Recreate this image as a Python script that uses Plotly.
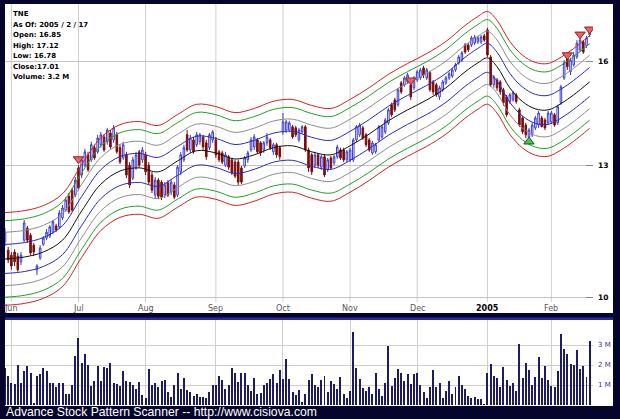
import plotly.graph_objects as go

W, H = 620, 419

# ---------------- data ----------------
OPEN = [11.17,10.99,10.88,10.95,10.86,10.74,11.21,11.48,11.32,11.10,10.57,10.82,11.12,11.26,11.30,11.39,11.53,11.51,11.72,11.90,
        12.23,12.38,12.26,12.94,12.76,13.01,13.28,13.15,13.47,13.36,13.55,13.76,13.63,13.87,13.68,13.82,13.47,13.20,13.28,13.01,
        12.68,12.94,13.36,13.15,13.28,13.01,12.76,12.26,12.63,12.58,12.26,12.56,12.33,12.51,12.26,12.84,13.15,13.82,13.41,13.68,
        13.55,13.63,13.76,13.60,13.47,13.68,13.68,13.36,13.33,13.01,13.23,13.15,13.09,13.09,12.94,12.99,13.15,13.41,13.49,13.68,
        13.60,13.41,13.60,13.68,13.36,13.55,13.47,13.90,13.95,13.95,14.04,14.01,13.68,13.90,14.04,13.41,13.28,13.01,13.28,12.96,
        13.23,12.89,13.20,13.07,13.23,13.41,13.41,13.15,13.15,13.15,13.68,13.82,14.01,13.82,13.68,13.33,13.36,13.68,13.76,13.90,
        14.15,14.67,14.81,14.67,15.32,15.26,15.35,15.26,15.17,15.41,15.47,15.78,15.47,15.63,15.35,15.26,14.90,15.11,15.32,15.47,
        15.53,15.72,15.94,16.03,16.52,16.52,16.52,16.58,16.62,16.62,16.82,17.02,16.13,15.26,15.41,15.35,15.11,14.90,14.76,14.81,
        14.96,14.52,14.29,14.09,13.76,13.82,14.01,14.09,14.29,14.23,14.15,14.18,14.38,14.15,14.73,15.47,16.10,15.66,15.88,16.13,
        16.36,16.62,16.49,16.85]
HIGH = [11.48,11.06,10.95,11.01,10.93,10.95,11.67,11.53,11.37,11.15,10.69,11.10,11.30,11.46,11.55,11.67,11.58,11.90,12.02,12.21,
        12.31,12.43,12.71,13.01,13.23,13.44,13.36,13.63,13.55,13.82,13.90,13.84,14.01,13.95,14.09,13.90,13.55,13.63,13.36,13.09,
        13.23,13.36,13.41,13.49,13.36,13.09,12.84,12.71,12.68,12.63,12.58,12.63,12.66,12.58,13.01,13.36,13.55,13.95,13.82,13.76,
        13.90,13.87,13.82,13.68,13.87,13.95,13.76,13.41,13.39,13.36,13.28,13.20,13.15,13.15,12.99,13.25,13.39,13.76,13.84,13.73,
        13.65,13.65,13.87,13.73,13.60,13.60,13.52,14.43,14.23,14.21,14.09,14.07,14.01,14.09,14.09,13.47,13.33,13.36,13.33,13.28,
        13.28,13.20,13.25,13.28,13.55,13.47,13.47,13.41,13.47,13.73,14.09,14.15,14.07,13.87,13.73,13.65,13.60,14.09,14.09,14.29,
        14.58,14.73,14.87,15.17,15.38,15.53,15.63,15.35,15.53,15.72,15.78,15.85,15.78,15.69,15.41,15.32,15.23,15.41,15.53,15.66,
        15.78,15.94,16.19,16.32,16.58,16.58,16.82,16.85,16.82,16.85,16.88,17.09,16.19,15.56,15.47,15.41,15.17,14.96,15.02,15.08,
        15.02,14.58,14.35,14.15,14.01,14.15,14.35,14.49,14.35,14.29,14.49,14.49,14.43,14.67,15.26,16.03,16.16,16.10,16.29,16.68,
        16.78,16.68,16.82,17.12]
LOW = [11.08,10.71,10.57,10.65,10.53,10.67,11.17,11.15,10.88,10.86,10.46,10.78,11.08,11.21,11.26,11.35,11.39,11.46,11.67,11.86,
       11.81,11.86,12.21,12.38,12.68,12.96,12.84,13.09,13.15,13.31,13.47,13.36,13.55,13.44,13.60,13.31,13.04,13.15,12.68,12.43,
       12.63,12.89,12.94,13.07,12.76,12.51,12.31,12.19,12.16,12.14,12.19,12.21,12.26,12.16,12.21,12.76,13.09,13.36,13.33,13.31,
       13.49,13.55,13.41,13.15,13.41,13.60,13.20,13.09,13.04,12.96,12.89,12.76,12.68,12.51,12.53,12.94,13.07,13.36,13.41,13.31,
       13.25,13.33,13.52,13.41,13.28,13.20,13.15,13.82,13.87,13.90,13.71,13.76,13.63,13.84,13.36,12.84,12.76,12.94,12.94,12.89,
       12.71,12.84,12.89,13.01,13.17,13.15,13.09,13.09,13.09,13.09,13.63,13.76,13.68,13.49,13.36,13.28,13.31,13.63,13.71,13.84,
       14.09,14.32,14.46,14.61,14.99,15.20,15.29,14.81,15.11,15.35,15.41,15.47,15.41,15.05,14.96,14.90,14.81,15.05,15.26,15.41,
       15.47,15.66,15.88,15.97,16.23,16.29,16.45,16.52,16.55,16.55,16.62,16.13,15.20,15.17,15.08,14.96,14.64,14.32,14.70,14.76,
       14.70,14.04,13.84,13.73,13.68,13.76,13.95,14.01,14.04,13.95,14.09,14.12,14.04,14.09,14.67,15.41,15.72,15.56,15.82,16.07,
       16.29,16.23,16.42,16.78]
CLOSE = [11.39,10.78,10.65,10.74,10.57,10.88,11.60,11.21,10.93,10.95,10.65,11.04,11.26,11.39,11.51,11.63,11.44,11.83,11.95,12.14,
         11.86,11.90,12.63,12.43,13.15,13.36,12.89,13.55,13.20,13.73,13.82,13.41,13.95,13.49,14.01,13.36,13.09,13.55,12.76,12.51,
         13.15,13.28,13.01,13.41,12.84,12.58,12.38,12.63,12.23,12.21,12.51,12.26,12.58,12.21,12.96,13.28,13.47,13.41,13.73,13.36,
         13.82,13.82,13.49,13.23,13.82,13.90,13.28,13.15,13.09,13.28,12.96,12.81,12.73,12.58,12.58,13.20,13.33,13.68,13.76,13.36,
         13.33,13.60,13.76,13.47,13.55,13.28,13.23,14.18,14.18,14.15,13.76,13.82,13.95,14.04,13.41,12.94,12.84,13.28,13.01,13.23,
         12.76,13.15,12.94,13.23,13.49,13.20,13.15,13.36,13.41,13.68,14.04,14.09,13.73,13.55,13.41,13.60,13.55,14.04,14.04,14.23,
         14.52,14.38,14.52,15.11,15.05,15.47,15.56,14.90,15.47,15.66,15.72,15.56,15.72,15.11,15.05,14.96,15.17,15.35,15.47,15.60,
         15.72,15.88,16.13,16.26,16.29,16.36,16.75,16.78,16.75,16.78,16.68,16.19,15.26,15.50,15.17,15.05,14.73,14.38,14.96,15.02,
         14.76,14.09,13.90,13.82,13.95,14.09,14.29,14.43,14.04,14.01,14.43,14.43,14.09,14.61,15.20,15.94,15.82,16.03,16.19,16.58,
         16.68,16.29,16.75,17.01]
VOLUME_M = [1.83,1.45,1.12,1.05,2.0,1.12,1.72,1.95,1.58,0.1,
            1.45,1.55,1.83,1.7,1.08,1.08,0.88,1.12,1.08,0.53,
            0.53,1.0,2.45,3.37,2.12,2.53,2.0,0.95,1.2,1.95,
            1.2,1.92,1.83,2.12,1.12,1.05,0.95,1.7,1.2,1.17,
            1.0,0.8,1.17,0.5,0.35,1.8,1.0,1.12,0.88,1.2,
            1.25,0.67,0.42,1.0,1.62,0.8,1.33,0.75,0.67,0.45,
            0.53,0.42,0.38,0.35,0.63,1.0,1.0,1.45,1.25,0.78,
            1.0,1.85,1.6,1.17,1.58,1.58,1.0,0.72,1.37,0.55,
            0.58,1.0,1.08,1.3,1.55,1.08,1.75,1.3,2.28,1.3,
            0.63,0.5,0.75,0.17,0.53,1.25,1.55,1.0,0.88,1.25,
            1.45,0.67,1.22,1.05,0.8,1.42,0.53,0.35,0.72,3.65,
            1.85,1.3,0.87,0.72,0.92,0.53,1.58,0.8,
            0.45,1.12,2.95,0.95,1.37,1.8,1.58,1.2,1.55,1.05,
            1.55,1.58,1.0,0.67,0.37,0.88,1.75,0.88,1.08,0.37,
            0.7,1.2,0.53,0.88,1.47,1.0,0.78,0.45,0.37,0.4,
            0.32,0.32,0.05,1.58,2.05,1.47,1.33,0.88,1.88,1.25,
            0.95,1.08,0.7,3.03,1.33,2.08,1.75,1.0,1.42,2.42,
            1.37,1.95,1.25,0.95,0.88,1.7,3.55,2.78,2.55,2.03,
            2.0,2.75,1.8,1.95,1.42,3.2]
BAR_IDX = list(range(len(CLOSE)))

# centre line of the envelope (read at anchor bars)
CENTER_IDX = [0, 6, 12, 18, 24, 30, 36, 42, 48, 54, 60, 66, 72, 78, 84, 90, 96, 102, 108, 114,
              120, 126, 132, 138, 144, 148, 151, 154, 158, 162, 166, 170, 174, 178, 183]
CENTER_VAL = [10.80, 10.84, 10.95, 11.21, 11.88, 12.53, 12.86, 12.94, 12.84, 13.12, 13.39, 13.33, 13.17, 13.28,
              13.47, 13.52, 13.36, 13.28, 13.52, 13.84, 14.21, 14.52, 14.81, 15.17, 15.66, 15.94, 16.10, 15.82,
              15.17, 14.76, 14.55, 14.52, 14.70, 14.96, 15.35]
BAND_NAMES = ["blue", "gray", "green", "red"]
BAND_LOG10 = [0.0125, 0.0230, 0.0330, 0.0400]
BAND_COLORS = ["#2a2ac8", "#8c8c8c", "#22a022", "#d42020"]

# signals
SELL_IDX = [23, 127, 176, 180, 183]
SELL_VAL = [13.17, 15.40, 16.19, 16.87, 17.04]
BUY_IDX = [164]
BUY_VAL = [13.63]

MONTH_IDX = [2, 23, 44, 66, 87, 108, 129, 151, 171]
MONTH_TXT = ["Jun", "Jul", "Aug", "Sep", "Oct", "Nov", "Dec", "2005", "Feb"]
PRICE_TICKS = [10, 13, 16]
VOL_TICKS = [1, 2, 3]
VOL_TICK_TXT = ["1 M", "2 M", "3 M"]

INFO = ["TNE", "As Of: 2005 / 2 / 17", "Open: 16.85", "High: 17.12", "Low: 16.78", "Close:17.01", "Volume: 3.2 M"]
FOOTER = "Advance Stock Pattern Scanner -- http://www.cisiova.com"

# ---------------- figure ----------------
def py(px):
    return 1 - px / H

def pxx(px):
    return px / W

NAVY = "#05052b"
fig = go.Figure()

# envelope
for name, step, col in reversed(list(zip(BAND_NAMES, BAND_LOG10, BAND_COLORS))):
    for sgn in (1, -1):
        vals = [v * 10 ** (sgn * step) for v in CENTER_VAL]
        fig.add_trace(go.Scatter(x=CENTER_IDX, y=vals, mode="lines", line=dict(color=col, width=1, shape="spline", smoothing=1.0),
                                 hoverinfo="skip", showlegend=False))
fig.add_trace(go.Scatter(x=CENTER_IDX, y=CENTER_VAL, mode="lines", line=dict(color="#111111", width=1, shape="spline", smoothing=1.0),
                         hoverinfo="skip", showlegend=False))

fig.add_trace(go.Candlestick(x=BAR_IDX, open=OPEN, high=HIGH, low=LOW, close=CLOSE,
                             increasing=dict(line=dict(color="#3c3cd0", width=1), fillcolor="#ffffff"),
                             decreasing=dict(line=dict(color="#7a0c0c", width=1), fillcolor="#7a0c0c"),
                             whiskerwidth=0, showlegend=False))

fig.add_trace(go.Scatter(x=SELL_IDX, y=SELL_VAL, mode="markers",
                         marker=dict(symbol="triangle-down", size=9, color="#f06060", line=dict(color="#902020", width=1)),
                         showlegend=False))
fig.add_trace(go.Scatter(x=BUY_IDX, y=BUY_VAL, mode="markers",
                         marker=dict(symbol="triangle-up", size=9, color="#50c050", line=dict(color="#106010", width=1)),
                         showlegend=False))

fig.add_trace(go.Bar(x=BAR_IDX, y=VOLUME_M, xaxis="x2", yaxis="y2", marker=dict(color="#1b1b68", line=dict(width=0)),
                     width=0.62, showlegend=False))

XR = [0, (593 - 5) / 3.195]
shapes = [
    dict(type="rect", xref="paper", yref="paper", x0=pxx(5), x1=pxx(613), y0=py(313), y1=py(4),
         fillcolor="white", line=dict(width=0), layer="below"),
    dict(type="rect", xref="paper", yref="paper", x0=pxx(5), x1=pxx(613), y0=py(320), y1=py(317.5),
         fillcolor="#2a2aa0", line=dict(width=0), layer="below"),
    dict(type="rect", xref="paper", yref="paper", x0=pxx(5), x1=pxx(613), y0=py(406), y1=py(320),
         fillcolor="white", line=dict(width=0), layer="below"),
]
for m in MONTH_IDX:
    shapes.append(dict(type="line", xref="x", yref="paper", x0=m, x1=m, y0=py(302), y1=py(4),
                       line=dict(color="#cfcfcf", width=1), layer="below"))

ann = []
for m, t in zip(MONTH_IDX, MONTH_TXT):
    bold = t == "2005"
    ann.append(dict(x=m, y=py(308.5), xref="x", yref="paper", text=t, showarrow=False,
                    font=dict(family="DejaVu Sans", size=8, color="#000000" if bold else "#555555",
                              weight="bold" if bold else "normal"),
                    xanchor="center", yanchor="middle"))
for k, t in enumerate(INFO):
    ann.append(dict(x=pxx(10.5), y=py(14.3 + 10.5 * k), xref="paper", yref="paper", text=t, showarrow=False,
                    font=dict(family="DejaVu Sans", size=7, color="#000000", weight="bold"),
                    xanchor="left", yanchor="middle"))
ann.append(dict(x=pxx(4), y=py(412.3), xref="paper", yref="paper", text=FOOTER, showarrow=False,
                font=dict(family="Liberation Sans", size=12.2, color="#ffffff"), xanchor="left", yanchor="middle"))

fig.update_layout(
    width=W, height=H, margin=dict(l=0, r=0, t=0, b=0),
    paper_bgcolor=NAVY, plot_bgcolor="rgba(0,0,0,0)",
    showlegend=False, shapes=shapes, annotations=ann, bargap=0, hovermode=False,
    xaxis=dict(domain=[pxx(5), pxx(593)], range=XR, showgrid=False, showticklabels=False, zeroline=False,
               showline=False, ticks="", rangeslider=dict(visible=False), anchor="y"),
    yaxis=dict(domain=[py(312), py(4)], type="log", range=[0.98767, 1.25328], side="right", anchor="x",
               tickvals=PRICE_TICKS, ticktext=[str(v) for v in PRICE_TICKS],
               tickfont=dict(family="DejaVu Sans", size=7.5, color="#000000", weight="bold"),
               showgrid=True, gridcolor="#c4c4c4", gridwidth=1, zeroline=False, showline=False,
               ticks="inside", ticklen=7, tickcolor="#8a8a8a", tickwidth=1, ticklabelstandoff=4),
    xaxis2=dict(domain=[pxx(5), pxx(593)], range=XR, anchor="y2", showgrid=True, gridcolor="#cfcfcf",
                tickvals=MONTH_IDX, showticklabels=False, zeroline=False, showline=False, ticks=""),
    yaxis2=dict(domain=[py(405), py(320)], range=[0, 4.25], side="right", anchor="x2",
                tickvals=VOL_TICKS, ticktext=VOL_TICK_TXT,
                tickfont=dict(family="DejaVu Sans", size=7, color="#333399"),
                showgrid=True, gridcolor="#cfcfcf", zeroline=False, showline=False, ticks="", ticklabelstandoff=4),
)

fig.write_html("out.html", config={"displayModeBar": False, "staticPlot": True},
               post_script="document.body.style.margin='0px';document.body.style.padding='0px';"
                           "document.body.style.background='" + NAVY + "';")
